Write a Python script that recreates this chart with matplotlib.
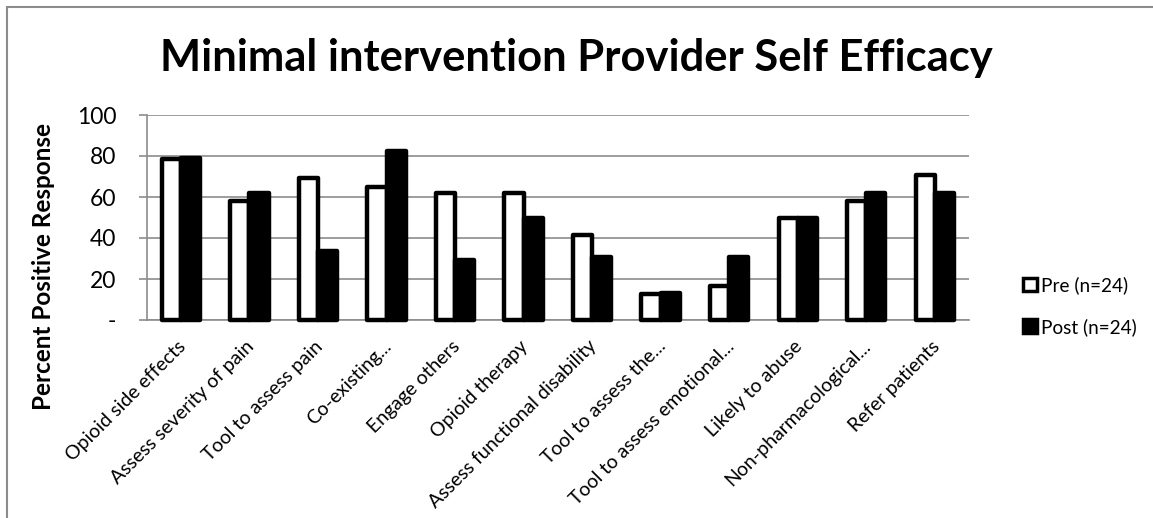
import matplotlib
matplotlib.use("Agg")
import matplotlib.pyplot as plt
from matplotlib.patches import Patch, Rectangle
import matplotlib.transforms as mtransforms
import numpy as np

plt.rcParams['font.family'] = ['Lato', 'DejaVu Sans']

categories = [
    "Opioid side effects", "Assess severity of pain", "Tool to assess pain",
    "Co-existing...", "Engage others", "Opioid therapy",
    "Assess functional disability", "Tool to assess the...",
    "Tool to assess emotional...", "Likely to abuse",
    "Non-pharmacological...", "Refer patients",
]
pre_values = [78.5, 58.0, 69.5, 65.0, 62.0, 62.0, 41.5, 12.5, 16.5, 50.0, 58.0, 70.5]
post_values = [79.0, 62.0, 33.5, 82.5, 29.5, 50.0, 30.5, 13.0, 30.5, 50.0, 62.0, 62.0]
y_ticks = [0, 20, 40, 60, 80, 100]
y_tick_labels = ["-", "20", "40", "60", "80", "100"]
series_names = ["Pre (n=24)", "Post (n=24)"]

W, H = 1153, 518
fig = plt.figure(figsize=(W / 100, H / 100), dpi=100)

# outer chart frame
fig.add_artist(Rectangle((7 / W, -0.1), 1.2, 1 - 7 / H + 0.1, transform=fig.transFigure,
                         fill=False, edgecolor="#8c8c8c", linewidth=1.5))

ax = fig.add_axes([146.7 / W, 1 - 320 / H, (969 - 146.7) / W, (320 - 115) / H])

x = np.arange(len(categories)) + 0.5
bw = 0.28
edge_lw = 3.2
ax.bar(x - bw / 2, pre_values, bw, color="white", edgecolor="black", linewidth=edge_lw,
       joinstyle="round", zorder=3, clip_on=False)
ax.bar(x + bw / 2, post_values, bw, color="black", edgecolor="black", linewidth=edge_lw,
       joinstyle="round", zorder=3, clip_on=False)

ax.set_xlim(0, len(categories))
ax.set_ylim(0, 100)
ax.set_yticks(y_ticks)
ax.set_yticklabels(y_tick_labels, fontsize=16.5)
ax.yaxis.grid(True, color="#8c8c8c", linewidth=1.2, zorder=0)
ax.set_axisbelow(True)
for s in ["top", "right"]:
    ax.spines[s].set_visible(False)
ax.spines["left"].set_color("#8c8c8c")
ax.spines["bottom"].set_color("#8c8c8c")
ax.spines["left"].set_linewidth(1.2)
ax.spines["bottom"].set_linewidth(1.2)
ax.tick_params(axis="y", length=6, width=1.2, color="#8c8c8c", pad=16)
ax.tick_params(axis="x", length=0, pad=4)

ax.set_xticks(x)
ax.set_xticklabels(categories, rotation=45, ha="right", rotation_mode="anchor", fontsize=14)
offset = mtransforms.ScaledTranslation(-4 / 100, -12 / 100, fig.dpi_scale_trans)
for lbl in ax.get_xticklabels():
    lbl.set_transform(lbl.get_transform() + offset)

fig.text(44 / W, 1 - 266 / H, "Percent Positive Response", rotation=90, fontsize=17.5,
         fontweight="bold", ha="center", va="center")
fig.text(576 / W, 1 - 58 / H, "Minimal intervention Provider Self Efficacy", fontsize=31.3,
         fontweight="bold", ha="center", va="center")

handles = [Patch(facecolor="white", edgecolor="black", linewidth=2.5, joinstyle="round"),
           Patch(facecolor="black", edgecolor="black", linewidth=2.5, joinstyle="round")]
fig.legend(handles, series_names, loc="center left", bbox_to_anchor=(1006 / W, 1 - 306 / H),
           frameon=False, fontsize=13.7, handlelength=0.75, handleheight=0.75,
           handletextpad=0.2, labelspacing=1.25)

fig.savefig("out.png", dpi=100)
